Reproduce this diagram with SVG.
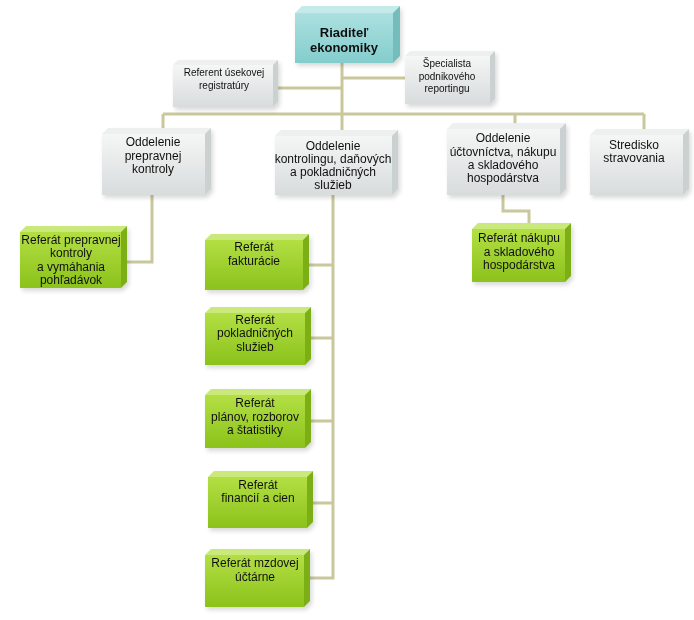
<svg xmlns="http://www.w3.org/2000/svg" width="694" height="620" viewBox="0 0 694 620">
<defs>
<linearGradient id="gGray" x1="0" y1="0" x2="0" y2="1"><stop offset="0" stop-color="#f5f6f6"/><stop offset="1" stop-color="#d8dcdc"/></linearGradient>
<linearGradient id="gTeal" x1="0" y1="0" x2="0" y2="1"><stop offset="0" stop-color="#ace0e0"/><stop offset="1" stop-color="#84cdcd"/></linearGradient>
<linearGradient id="gGreen" x1="0" y1="0" x2="0" y2="1"><stop offset="0" stop-color="#b3df44"/><stop offset="1" stop-color="#8bc21b"/></linearGradient>
<filter id="sh" x="-10%" y="-10%" width="130%" height="130%"><feDropShadow dx="2" dy="3" stdDeviation="2" flood-color="#000" flood-opacity="0.15"/></filter>
<style>
.con{fill:none;stroke:#c9c79b;stroke-width:3}
.gray .f{fill:url(#gGray)} .gray .t{fill:#eef0f0} .gray .s{fill:#cbd0d0}
.teal .f{fill:url(#gTeal)} .teal .t{fill:#c4eaea} .teal .s{fill:#74bcbc}
.green .f{fill:url(#gGreen)} .green .t{fill:#c9ea7a} .green .s{fill:#7cae19}
.box{filter:url(#sh)}
text{font-family:"Liberation Sans",Arial,sans-serif;font-size:12px;fill:#111;text-anchor:middle}
.b{font-weight:bold;font-size:13px}
.sm{font-size:10px}
</style>
</defs>
<g id="connectors">
<path class="con" d="M342,63 V130"/>
<path class="con" d="M342,78 H405"/>
<path class="con" d="M342,88 H278"/>
<path class="con" d="M163,114 H644"/>
<path class="con" d="M163,114 V128"/>
<path class="con" d="M515,114 V123"/>
<path class="con" d="M644,114 V129"/>
<path class="con" d="M152,195 V262 H127"/>
<path class="con" d="M333,195 V578 H310"/>
<path class="con" d="M333,265 H309"/>
<path class="con" d="M333,338 H311"/>
<path class="con" d="M333,421 H311"/>
<path class="con" d="M333,503 H313"/>
<path class="con" d="M503,195 V211 H529 V223"/>
</g>
<g id="riaditel" class="box teal">
<rect class="f" x="295" y="13" width="98" height="50"/>
<polygon class="t" points="295,13 302,6 400,6 393,13"/>
<polygon class="s" points="393,13 400,6 400,56 393,63"/>
<text class="b" x="344" y="37">Riaditeľ</text>
<text class="b" x="344" y="52">ekonomiky</text>
</g>
<g id="referent" class="box gray">
<rect class="f" x="173" y="65" width="100" height="42"/>
<polygon class="t" points="173,65 178,60 278,60 273,65"/>
<polygon class="s" points="273,65 278,60 278,102 273,107"/>
<text class="sm" x="224" y="76">Referent úsekovej</text>
<text class="sm" x="224" y="89">registratúry</text>
</g>
<g id="specialista" class="box gray">
<rect class="f" x="405" y="56" width="85" height="48"/>
<polygon class="t" points="405,56 410,51 495,51 490,56"/>
<polygon class="s" points="490,56 495,51 495,99 490,104"/>
<text class="sm" x="447" y="67">Špecialista</text>
<text class="sm" x="447" y="80">podnikového</text>
<text class="sm" x="447" y="92">reportingu</text>
</g>
<g id="prepravnej" class="box gray">
<rect class="f" x="102" y="134" width="103" height="61"/>
<polygon class="t" points="102,134 108,128 211,128 205,134"/>
<polygon class="s" points="205,134 211,128 211,189 205,195"/>
<text x="153" y="146">Oddelenie</text>
<text x="153" y="160">prepravnej</text>
<text x="153" y="173">kontroly</text>
</g>
<g id="kontrolingu" class="box gray">
<rect class="f" x="275" y="136" width="117" height="59"/>
<polygon class="t" points="275,136 281,130 398,130 392,136"/>
<polygon class="s" points="392,136 398,130 398,189 392,195"/>
<text x="333" y="150">Oddelenie</text>
<text x="333" y="163">kontrolingu, daňových</text>
<text x="333" y="176">a pokladničných</text>
<text x="333" y="189">služieb</text>
</g>
<g id="uctovnictva" class="box gray">
<rect class="f" x="447" y="129" width="113" height="66"/>
<polygon class="t" points="447,129 453,123 566,123 560,129"/>
<polygon class="s" points="560,129 566,123 566,189 560,195"/>
<text x="503" y="142">Oddelenie</text>
<text x="503" y="156">účtovníctva, nákupu</text>
<text x="503" y="169">a skladového</text>
<text x="503" y="182">hospodárstva</text>
</g>
<g id="stredisko" class="box gray">
<rect class="f" x="590" y="135" width="93" height="60"/>
<polygon class="t" points="590,135 596,129 689,129 683,135"/>
<polygon class="s" points="683,135 689,129 689,189 683,195"/>
<text x="634" y="149">Stredisko</text>
<text x="634" y="162">stravovania</text>
</g>
<g id="ref-prepravnej" class="box green">
<rect class="f" x="20" y="232" width="101" height="56"/>
<polygon class="t" points="20,232 26,226 127,226 121,232"/>
<polygon class="s" points="121,232 127,226 127,282 121,288"/>
<text x="71" y="244">Referát prepravnej</text>
<text x="71" y="257">kontroly</text>
<text x="71" y="271">a vymáhania</text>
<text x="71" y="284">pohľadávok</text>
</g>
<g id="ref-fakturacie" class="box green">
<rect class="f" x="205" y="240" width="98" height="50"/>
<polygon class="t" points="205,240 211,234 309,234 303,240"/>
<polygon class="s" points="303,240 309,234 309,284 303,290"/>
<text x="254" y="251">Referát</text>
<text x="254" y="265">fakturácie</text>
</g>
<g id="ref-pokladnicnych" class="box green">
<rect class="f" x="205" y="313" width="100" height="52"/>
<polygon class="t" points="205,313 211,307 311,307 305,313"/>
<polygon class="s" points="305,313 311,307 311,359 305,365"/>
<text x="255" y="324">Referát</text>
<text x="255" y="337">pokladničných</text>
<text x="255" y="351">služieb</text>
</g>
<g id="ref-planov" class="box green">
<rect class="f" x="205" y="395" width="100" height="53"/>
<polygon class="t" points="205,395 211,389 311,389 305,395"/>
<polygon class="s" points="305,395 311,389 311,442 305,448"/>
<text x="255" y="407">Referát</text>
<text x="255" y="421">plánov, rozborov</text>
<text x="255" y="434">a štatistiky</text>
</g>
<g id="ref-financii" class="box green">
<rect class="f" x="208" y="477" width="99" height="51"/>
<polygon class="t" points="208,477 214,471 313,471 307,477"/>
<polygon class="s" points="307,477 313,471 313,522 307,528"/>
<text x="258" y="489">Referát</text>
<text x="258" y="502">financií a cien</text>
</g>
<g id="ref-mzdovej" class="box green">
<rect class="f" x="205" y="555" width="99" height="52"/>
<polygon class="t" points="205,555 211,549 310,549 304,555"/>
<polygon class="s" points="304,555 310,549 310,601 304,607"/>
<text x="255" y="567">Referát mzdovej</text>
<text x="255" y="581">účtárne</text>
</g>
<g id="ref-nakupu" class="box green">
<rect class="f" x="472" y="229" width="93" height="53"/>
<polygon class="t" points="472,229 478,223 571,223 565,229"/>
<polygon class="s" points="565,229 571,223 571,276 565,282"/>
<text x="519" y="242">Referát nákupu</text>
<text x="519" y="256">a skladového</text>
<text x="519" y="269">hospodárstva</text>
</g>
</svg>
